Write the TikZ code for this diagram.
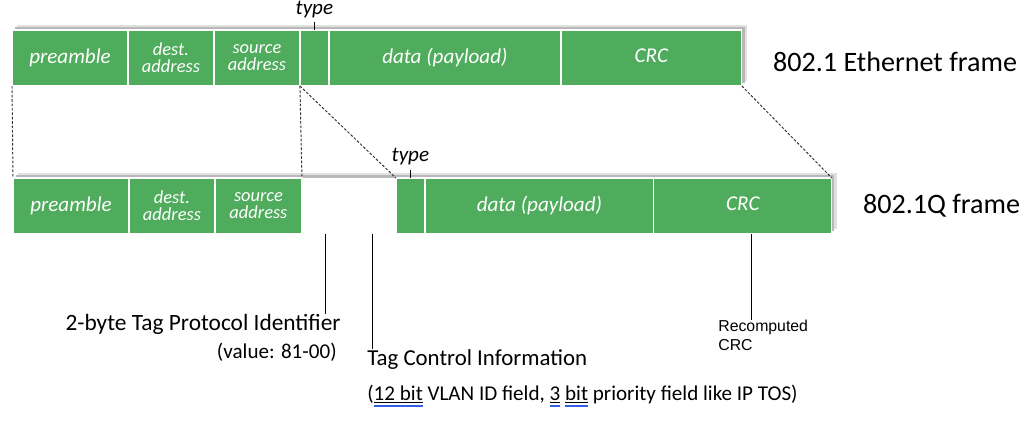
\documentclass[tikz,border=0pt]{standalone}
\usepackage{fontspec}
\setmainfont{Carlito}
\newfontfamily\arialfont{Liberation Sans}
\usetikzlibrary{positioning,backgrounds}
\definecolor{fieldgreen}{RGB}{79,172,92}
\definecolor{spellblue}{RGB}{50,95,230}
\newsavebox\spellbox
\newcommand{\spellmark}[1]{\sbox\spellbox{#1}\rlap{\rule[-1.2pt]{\wd\spellbox}{0.45pt}}\rlap{\textcolor{spellblue}{\rule[-3.6pt]{\wd\spellbox}{1pt}}}\usebox\spellbox}

\begin{document}
\begin{tikzpicture}[x=0.02cm,y=-0.02cm,
  field/.style={draw=white, line width=0.7pt, fill=fieldgreen, text=white, font=\itshape\fontsize{12}{12}\selectfont, minimum height=1.12cm, inner sep=0pt, outer sep=0pt, align=center},
  twoline/.style={font=\itshape\fontsize{10.5}{9.6}\selectfont},
  blank/.style={fill=white, minimum height=1.12cm, minimum width=0.94cm, inner sep=0pt, outer sep=0pt},
  zoomline/.style={dash pattern=on 1.5pt off 1pt, black!80, line width=0.55pt},
  tick/.style={black, line width=0.6pt},
  framename/.style={font=\fontsize{16}{16}\selectfont, right=0.5cm of #1},
  typename/.style={font=\itshape\fontsize{12}{12}\selectfont, inner sep=0pt}]
\useasboundingbox (0,0) rectangle (1034,442);
% 802.1 Ethernet frame
\node[field, minimum width=2.32cm, anchor=north west] (pre1) at (12,30) {preamble};
\node[field, twoline, minimum width=1.72cm, right=0pt of pre1] (dst1) {dest.\\address};
\node[field, twoline, minimum width=1.72cm, right=0pt of dst1] (src1) {source\\address};
\node[field, minimum width=0.58cm, right=0pt of src1] (type1) {};
\node[field, minimum width=4.64cm, right=0pt of type1] (data1) {data (payload)};
\node[field, minimum width=3.62cm, right=0pt of data1] (crc1) {\raisebox{2.5pt}{CRC}};
\node[typename, above=0.24cm of type1] (ty1) {type};
\draw[tick, shorten >=0.08cm] (type1.north) -- (ty1.south);
\node[framename=crc1, yshift=-0.08cm] (eth) {802.1 Ethernet frame};
% 802.1Q frame
\node[field, minimum width=2.32cm, anchor=north west] (pre2) at (13,178) {preamble};
\node[field, twoline, minimum width=1.72cm, right=0pt of pre2] (dst2) {dest.\\address};
\node[field, twoline, minimum width=1.74cm, right=0pt of dst2] (src2) {source\\address};
\node[blank, right=0pt of src2] (tpid) {};
\node[blank, right=0pt of tpid] (tci) {};
\node[field, minimum width=0.58cm, right=0pt of tci] (type2) {};
\node[field, minimum width=4.58cm, right=0pt of type2] (data2) {data (payload)};
\node[field, minimum width=3.56cm, right=0pt of data2] (crc2) {\raisebox{2.5pt}{CRC}};
\node[typename, above=0.25cm of type2] (ty2) {type};
\draw[tick, shorten >=0.08cm] (type2.north) -- (ty2.south);
\node[framename=crc2] (vlan) {802.1Q frame};
% shadows behind both frames
\begin{scope}[on background layer]
\fill[black!12] ([xshift=3pt,yshift=3pt]pre1.south west) rectangle ([xshift=3pt,yshift=3pt]crc1.north east);
\fill[black!28] ([xshift=1.5pt,yshift=1.5pt]pre1.south west) rectangle ([xshift=1.5pt,yshift=1.5pt]crc1.north east);
\fill[black!12] ([xshift=3pt,yshift=3pt]pre2.south west) rectangle ([xshift=3pt,yshift=3pt]crc2.north east);
\fill[black!28] ([xshift=1.5pt,yshift=1.5pt]pre2.south west) rectangle ([xshift=1.5pt,yshift=1.5pt]crc2.north east);
\end{scope}
% zoom lines
\draw[zoomline] (pre1.south west) -- (pre2.north west);
\draw[zoomline] (src1.south east) -- (src2.north east);
\draw[zoomline] (type1.south west) -- (type2.north west);
\draw[zoomline] (crc1.south east) -- (crc2.north east);
% callouts
\node[font=\fontsize{13.3}{16}\selectfont, align=right, inner sep=0pt, anchor=north east] (tpidlbl) at (341,314) {2-byte Tag Protocol Identifier\\{\fontsize{12}{12}\selectfont (value: 81-00)}\hspace*{0.08cm}};
\node[font=\fontsize{13}{13}\selectfont, inner sep=0pt, anchor=north west] (tcilbl) at (367,349) {Tag Control Information};
\node[font=\fontsize{12}{12}\selectfont, inner sep=0pt, below=0.3cm of tcilbl.south west, anchor=north west] (tcinote) {(\spellmark{12 bit} VLAN ID field, \spellmark{3} \spellmark{bit} priority field like IP TOS)};
\node[font=\arialfont\fontsize{9}{10.5}\selectfont, align=left, inner sep=0pt, anchor=north west] (crclbl) at (718,320) {Recomputed\\CRC};
\draw[tick] (tpid.south) -- (tpid.south |- tpidlbl.north);
\draw[tick] (tci.south) -- (tci.south |- tcilbl.north);
\draw[tick] ([xshift=0.18cm]crc2.south) -- ([xshift=0.18cm]crc2.south |- crclbl.north);
\end{tikzpicture}
\end{document}
